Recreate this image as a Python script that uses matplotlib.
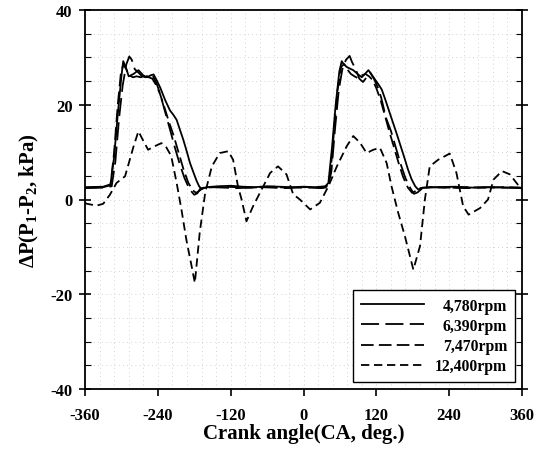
import matplotlib
matplotlib.use('Agg')
import matplotlib.pyplot as plt
from matplotlib.ticker import MultipleLocator

# ---------------- data ----------------
labels = ['4,780rpm', '6,390rpm', '7,470rpm', '12,400rpm']

x1 = [-360, -330, -318, -312, -306, -300, -297, -293, -288, -280,
      -272, -264, -258, -252, -247, -242, -236, -228, -220, -214,
      -209, -203, -198, -192, -187, -181, -176, -172, -168, -160,
      -140, -120, -100, -80, -60, -40, -20, 0, 20, 36,
      41, 47, 53, 59, 63, 66, 71, 77, 82, 89,
      96, 102, 107, 113, 118, 124, 129, 135, 142, 148,
      153, 160, 167, 172, 178, 184, 189, 196, 220, 250,
      280, 310, 340, 360]
y1 = [2.6, 2.7, 3.2, 9, 18, 26, 29.2, 28, 26, 26.5,
      27.3, 26.2, 25.8, 26.2, 26.4, 25.2, 23.6, 21, 18.8, 17.8,
      16.8, 14.5, 12.6, 10, 7.7, 5.6, 3.9, 2.8, 2.2, 2.6,
      2.8, 2.9, 2.7, 2.6, 2.8, 2.7, 2.6, 2.7, 2.6, 2.8,
      3.5, 11, 20, 27, 29.2, 28.6, 28, 27.6, 27.3, 26.5,
      25.8, 26.6, 27.3, 26.2, 25.3, 24.2, 23.2, 21, 18.3, 16,
      14.1, 11.3, 8.5, 6.4, 4.3, 2.8, 2.1, 2.5, 2.6, 2.7,
      2.5, 2.6, 2.5, 2.4]

x2 = [-360, -330, -316, -310, -304, -298, -292, -287, -283, -278,
      -272, -266, -260, -254, -248, -242, -236, -228, -220, -212,
      -204, -196, -188, -180, -175, -170, -164, -150, -130, -110,
      -90, -70, -50, -30, -10, 10, 30, 40,
      46, 52, 58, 64, 70, 76, 80, 86, 92, 98,
      104, 110, 116, 122, 128, 136, 144, 152, 160, 168,
      176, 182, 188, 196, 210, 240, 270, 300, 330, 360]
y2 = [2.4, 2.5, 2.8, 8, 17, 24, 28.5, 30.2, 29.5, 27.5,
      26.8, 26, 25.8, 26.5, 26, 24.5, 22.2, 18.5, 14.8, 11,
      7.5, 4.5, 2.2, 1.0, 1.3, 2.3, 2.5, 2.6, 2.5, 2.4,
      2.5, 2.6, 2.5, 2.4, 2.5, 2.5, 2.4, 2.6,
      6, 15, 23, 27.5, 29.5, 30.3, 29, 27.5, 25.5, 24.8,
      25.8, 26.8, 25.5, 23.8, 21.5, 17.2, 14.5, 11, 7.5, 4.5,
      2.4, 1.2, 1.5, 2.4, 2.6, 2.5, 2.4, 2.6, 2.5, 2.5]

x3 = [-360, -330, -318, -312, -306, -301, -297, -292, -287, -281,
      -275, -268, -261, -255, -249, -243, -237, -230, -222, -214,
      -206, -198, -190, -183, -177, -172, -166, -150, -130, -110,
      -90, -70, -50, -30, -10, 10, 30, 38,
      44, 50, 56, 62, 67, 72, 78, 84, 90, 96,
      102, 108, 114, 120, 127, 134, 141, 148, 156, 164,
      172, 179, 185, 192, 210, 240, 270, 300, 330, 360]
y3 = [2.5, 2.6, 3.0, 10, 20, 26.5, 28.5, 27.5, 26.2, 25.8,
      26.0, 25.8, 26.1, 25.8, 25.5, 24.2, 22.5, 19.8, 16.5, 13.5,
      10, 6.5, 3.6, 2.0, 1.4, 1.8, 2.4, 2.6, 2.7, 2.6,
      2.5, 2.6, 2.7, 2.5, 2.6, 2.6, 2.5, 2.7,
      5, 14, 23, 28, 28.6, 27.5, 26.5, 26, 25.6, 26.2,
      26.5, 26.0, 25.2, 23.5, 21, 17.8, 14.5, 11.5, 8, 4.8,
      2.5, 1.4, 1.8, 2.4, 2.6, 2.5, 2.6, 2.5, 2.6, 2.5]

x4 = [-360, -357, -341, -330, -319, -308, -294, -280, -272, -264,
      -256, -246, -234, -226, -218, -209, -201, -193, -186, -179,
      -171, -162, -151, -138, -124, -116, -108, -102, -94, -83,
      -69, -55, -42, -28, -17, -6, 11, 27, 41, 55,
      71, 82, 93, 104, 115, 126, 137, 145, 156, 167,
      181, 192, 200, 208, 222, 241, 252, 263, 272, 291,
      304, 313, 327, 340, 357, 360]
y4 = [-0.7, -0.9, -1.3, -0.9, 1.0, 3.5, 4.9, 11.2, 14.4, 12.4,
      10.5, 11.2, 11.9, 11.0, 9.2, 3.5, -2.2, -8.5, -13.0, -17.6,
      -7, 1.4, 7.0, 9.8, 10.2, 8.4, 2.8, 0, -4.6, -1.4,
      2.1, 5.6, 7.0, 5.3, 1.1, 0, -2.1, -0.7, 2.8, 7.0,
      11.2, 13.4, 12.0, 9.8, 10.5, 10.9, 7.7, 2.8, -2.8, -7.7,
      -14.8, -9.8, 0, 7.0, 8.4, 9.7, 5.6, -1.4, -3.2, -1.8,
      0, 4.2, 6.0, 5.3, 2.5, 2.2]

xticks = [-360, -240, -120, 0, 120, 240, 360]
xtick_labels = ['-360', '-240', '-120', '0', '120', '240', '360']
yticks = [-40, -20, 0, 20, 40]
ytick_labels = ['-40', '-20', '0', '20', '40']

# ---------------- style ----------------
plt.rcParams['font.family'] = ['Liberation Serif', 'DejaVu Serif']
plt.rcParams['font.weight'] = 'bold'
plt.rcParams['axes.labelweight'] = 'bold'
plt.rcParams['axes.unicode_minus'] = False
plt.rcParams['mathtext.fontset'] = 'custom'
plt.rcParams['mathtext.rm'] = 'Liberation Serif:bold'
plt.rcParams['mathtext.it'] = 'Liberation Serif:bold'
plt.rcParams['mathtext.bf'] = 'Liberation Serif:bold'
plt.rcParams['mathtext.default'] = 'rm'

fig = plt.figure(figsize=(5.46, 4.60), dpi=100)
ax = fig.add_axes([85 / 546, 1 - 390 / 460, 437 / 546, 379 / 460])

series = [(x1, y1), (x2, y2), (x3, y3), (x4, y4)]
dash_styles = [None, (10, 3.5), (7, 2.9), (4.6, 2.6)]
for (xs, ys), lab, d in zip(series, labels, dash_styles):
    if d is None:
        ax.plot(xs, ys, color='black', lw=1.3, label=lab)
    else:
        ax.plot(xs, ys, color='black', lw=1.3, dashes=d, label=lab)

ax.set_xlim(-360, 360)
ax.set_ylim(-40, 40)
ax.set_xticks(xticks)
ax.set_xticklabels(xtick_labels)
ax.set_yticks(yticks)
ax.set_yticklabels(ytick_labels)
ax.xaxis.set_minor_locator(MultipleLocator(24))
ax.yaxis.set_minor_locator(MultipleLocator(5))
ax.tick_params(axis='x', which='major', direction='out', length=5, width=1.2,
               pad=8, labelsize=12)
ax.tick_params(axis='x', which='minor', length=0)
ax.tick_params(axis='y', which='major', direction='inout', length=8, width=1.2,
               pad=5, labelsize=12, right=True)
ax.tick_params(axis='y', which='minor', direction='in', length=4, width=0.8,
               right=True)
ax.grid(True, which='both', color='#c4c4c4', linestyle=(0, (1, 4)), linewidth=0.6)
for s in ax.spines.values():
    s.set_linewidth(1.3)

ax.set_xlabel('Crank angle(CA, deg.)', fontsize=15, labelpad=0)
ax.set_ylabel('ΔP(P$_1$-P$_2$, kPa)', fontsize=15, labelpad=7)

leg = ax.legend(loc='lower right', bbox_to_anchor=(0.984, 0.018), borderaxespad=0,
                frameon=True, fancybox=False, edgecolor='black', framealpha=1,
                fontsize=11.3, handlelength=4.0, handletextpad=0.7,
                labelspacing=0.27, borderpad=0.5)
leg.get_frame().set_linewidth(1.0)

# right-align legend labels
fig.canvas.draw()
r = fig.canvas.get_renderer()
texts = leg.get_texts()
ws = [t.get_window_extent(r).width for t in texts]
mw = max(ws)
try:
    rows = leg._legend_handle_box.get_children()[0].get_children()
    for row, w in zip(rows, ws):
        row.sep = row.sep + (mw - w) * 72.0 / fig.dpi
except Exception:
    pass

fig.savefig('out.png', dpi=100)
